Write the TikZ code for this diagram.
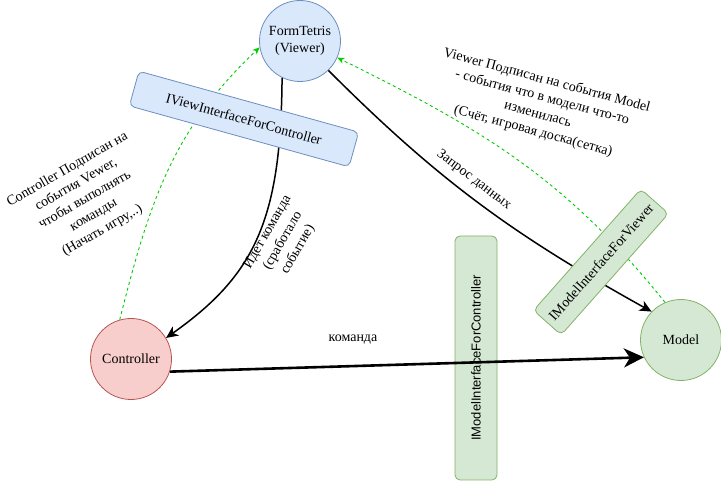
\documentclass[tikz,border=0pt]{standalone}
\usepackage{fontspec}
\setmainfont{Liberation Serif}
\newfontfamily\sansf{Liberation Sans}
\usetikzlibrary{arrows.meta}
\definecolor{bluefill}{HTML}{DAE8FC}
\definecolor{bluedraw}{HTML}{6C8EBF}
\definecolor{redfill}{HTML}{F8CECC}
\definecolor{reddraw}{HTML}{B85450}
\definecolor{greenfill}{HTML}{D5E8D4}
\definecolor{greendraw}{HTML}{82B366}
\definecolor{dashgreen}{HTML}{00CC00}
\begin{document}
\begin{tikzpicture}[x=1pt,y=-1pt,
  font=\fontsize{14}{17}\selectfont,
  circ/.style={circle, draw, minimum size=81pt, inner sep=0pt, align=center, line width=0.8pt},
  ibox/.style={draw, rounded corners=5pt, inner sep=0pt, line width=0.8pt},
  blk/.style={draw=black, line width=1.5pt, -{Stealth[length=12pt,width=11pt,inset=3.5pt]}},
  thick arrow/.style={draw=black, line width=2.6pt, -{Stealth[length=20pt,width=19pt,inset=6pt]}},
  grn/.style={draw=dashgreen, dash pattern=on 3pt off 3pt, line width=0.9pt, -{Stealth[length=7pt,width=6pt,inset=2pt]}},
  lbl/.style={align=center, inner sep=0pt, font=\fontsize{14}{17.5}\selectfont}
]
\useasboundingbox (0,0) rectangle (721,486);
% circles
\node[circ, fill=bluefill, draw=bluedraw] (view) at (300,41) {FormTetris\\(Viewer)};
\node[circ, fill=redfill, draw=reddraw] (ctrl) at (131,359) {Controller};
\node[circ, fill=greenfill, draw=greendraw] (model) at (681,340) {Model};
% connectors
\draw[grn] (ctrl.106) .. controls (149,204) and (172,130) .. (view.189);
\draw[grn] (model.113) .. controls (565,178) and (482,129) .. (view.-24);
\draw[blk] (view.244) .. controls (281,220) and (255,275) .. (ctrl.31);
\draw[blk] (view.-46) .. controls (440,182) and (514,235) .. (model.136);
% interface boxes
\node[ibox, fill=bluefill, draw=bluedraw, minimum width=228pt, minimum height=36pt, rotate=-15.5] (ivc) at (244,119) {IViewInterfaceForController};
\node[ibox, fill=greenfill, draw=greendraw, minimum width=162pt, minimum height=37pt, rotate=48.5] (imv) at (601,262) {IModelInterfaceForViewer};
\node[ibox, fill=greenfill, draw=greendraw, minimum width=244pt, minimum height=42pt, rotate=90, font=\sansf\fontsize{13}{15}\selectfont] (imc) at (476,358) {IModelInterfaceForController};
\draw[thick arrow] (ctrl.-18) -- (model.205);
% labels
\node[lbl, rotate=30] (lctrl) at (85,200) {Controller Подписан на\\события Vewer,\\чтобы выполнять\\команды\\(Начать игру,..)};
\node[lbl, rotate=60] (lcmd) at (283,241) {Идет команда\\(сработало\\событие)};
\node[lbl, rotate=-15] (lview) at (540,106) {Viewer Подписан на события Model\\- события что в модели что-то\\изменилась\\(Счёт, игровая доска(сетка)};
\node[lbl, rotate=-37] (lreq) at (474,180) {Запрос данных};
\node[lbl] (lkom) at (353,340) {команда};
\end{tikzpicture}
\end{document}
